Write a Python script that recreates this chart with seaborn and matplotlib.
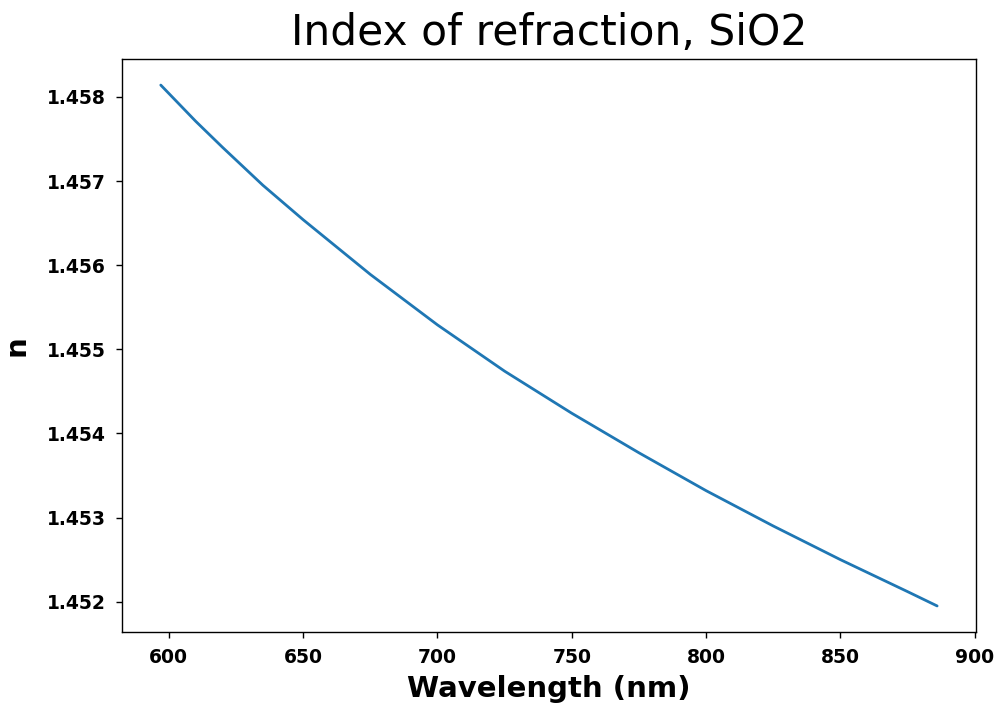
import matplotlib
matplotlib.use("Agg")
import matplotlib.pyplot as plt
import seaborn as sns
import pandas as pd

wavelength_nm = [597, 610, 620, 635, 650, 675, 700, 725, 750, 775, 800, 825, 850, 875, 886]
index_n = [1.45814, 1.45771, 1.45740, 1.45695, 1.45654, 1.45589, 1.45529, 1.45474,
           1.45424, 1.45377, 1.45332, 1.45290, 1.45250, 1.45212, 1.45195]

sns.set_style("ticks")
plt.rcParams['font.family'] = ['DejaVu Sans']
plt.rcParams['text.color'] = 'black'
plt.rcParams['axes.labelcolor'] = 'black'

df = pd.DataFrame({"Wavelength (nm)": wavelength_nm, "n": index_n})

fig = plt.figure(figsize=(9.98, 7.07), dpi=100)
ax = fig.add_axes([0.1222, 0.1061, 0.8557, 0.8104])
sns.lineplot(data=df, x="Wavelength (nm)", y="n", ax=ax, color="#1f77b4", linewidth=2)

ax.set_title("Index of refraction, SiO2", fontsize=30.5, pad=10, color="black")
ax.set_xlabel("Wavelength (nm)", fontsize=21, fontweight="bold", color="black", labelpad=6)
ax.set_ylabel("n", fontsize=21, fontweight="bold", color="black", labelpad=12)
ax.set_xticks([600, 650, 700, 750, 800, 850, 900])
ax.set_yticks([1.452, 1.453, 1.454, 1.455, 1.456, 1.457, 1.458])
ax.set_yticklabels(["1.452", "1.453", "1.454", "1.455", "1.456", "1.457", "1.458"])
for lab in ax.get_xticklabels() + ax.get_yticklabels():
    lab.set_fontweight("bold")
    lab.set_fontsize(13.5)
ax.tick_params(direction="out", length=4.5, width=1, colors="black", pad=7)
for s in ax.spines.values():
    s.set_color("black")
    s.set_linewidth(1)

fig.savefig("out.png", dpi=100)
